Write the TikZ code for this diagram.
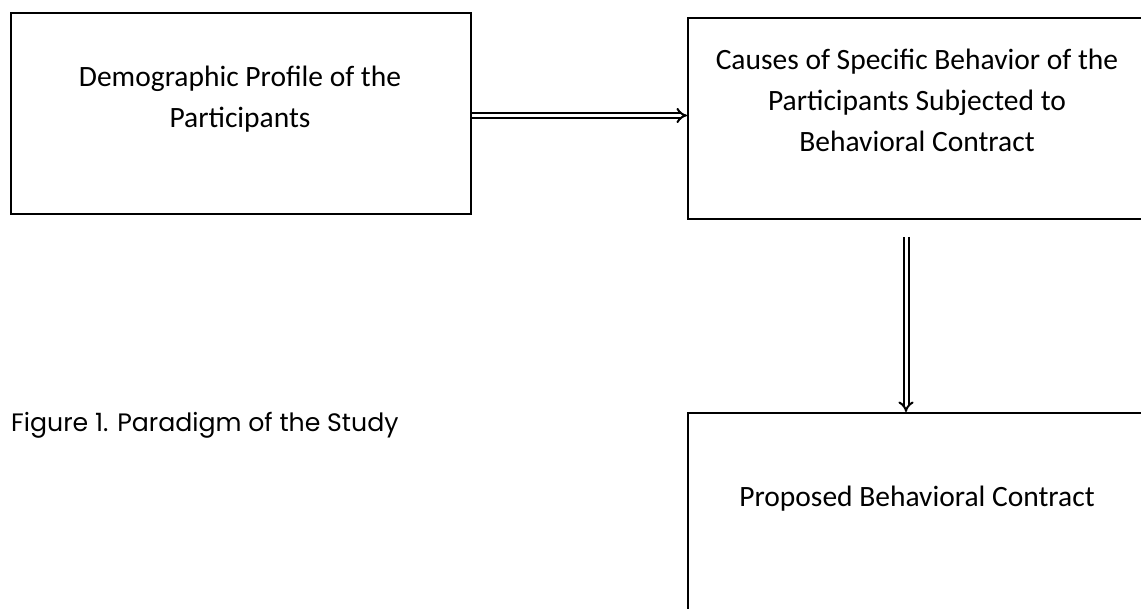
\documentclass[tikz,border=0pt]{standalone}
\usepackage{fontspec}
\setmainfont{Carlito}
\newfontfamily\capfont{Poppins}
\usetikzlibrary{arrows.meta}
\tikzset{
  boxnode/.style={draw=black, line width=2pt, rectangle, inner sep=0pt, minimum width=460pt, minimum height=201pt, anchor=north west},
  boxtext/.style={font=\fontsize{29.5}{41}\selectfont, align=center, inner sep=0pt, anchor=base},
  dblarrow/.style={double=white, draw=black, line width=2pt, double distance=3pt, -{Implies[length=6pt,width=11pt]}},
}
\begin{document}
\begin{tikzpicture}[x=1pt,y=-1pt]
\useasboundingbox (0,0) rectangle (1141,609);
\clip (0,0) rectangle (1141,609);
\fill[white] (0,0) rectangle (1141,609);
% boxes
\node[boxnode] (b1) at (10,12) {};
\node[boxnode] (b2) at (687,17) {};
\node[boxnode] (b3) at (687,412) {};
% texts
\node[boxtext] (t1a) at (240,87) {Demographic Profile of the};
\node[boxtext] (t1b) at (240,128) {Participants};
\node[boxtext] (t2a) at (917,70) {Causes of Specific Behavior of the};
\node[boxtext] (t2b) at (917,111) {Participants Subjected to};
\node[boxtext] (t2c) at (917,152) {Behavioral Contract};
\node[boxtext] (t3) at (917,507) {Proposed Behavioral Contract};
\node[font=\capfont\fontsize{25.2}{30}\selectfont, inner sep=0pt, anchor=base west] (cap) at (11,432) {Figure 1. Paradigm of the Study};
% connectors
\coordinate (h) at (0,115.5);
\coordinate (v0) at (906,237);
\draw[dblarrow] (b1.east |- h) -- (b2.west |- h);
\draw[dblarrow] (v0) -- (b3.north -| v0);
\end{tikzpicture}
\end{document}
